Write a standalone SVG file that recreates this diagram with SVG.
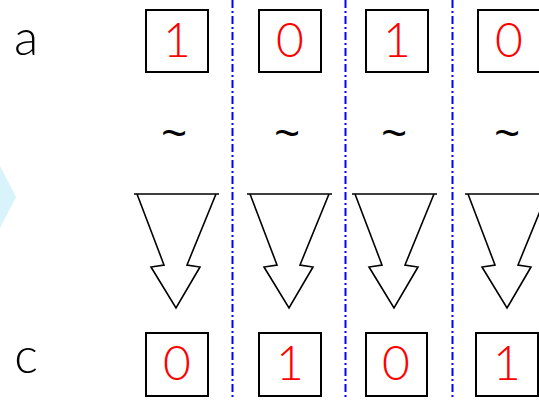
<svg xmlns="http://www.w3.org/2000/svg" width="539" height="400" viewBox="0 0 539 400">
<style>
.box{fill:none;stroke:#000;stroke-width:2}
.dig{font-family:Lato,"Liberation Sans",sans-serif;font-weight:300;font-size:48px;fill:#ff0000;text-anchor:middle}
.lbl{font-family:Lato,"Liberation Sans",sans-serif;font-weight:300;font-size:50px;fill:#000;text-anchor:middle}
.til{font-family:"Liberation Sans",sans-serif;font-size:44px;fill:#000;text-anchor:middle}
.arr{fill:none;stroke:#000;stroke-width:1.6;stroke-linejoin:miter}
.sep{stroke:#0000ff;stroke-width:2;stroke-dasharray:8 3 2 3;fill:none}
</style>
<defs>
<g id="arrow">
<path class="arr" d="M-42,194 H43 M-39,194 L-12,265 L-25,267 L0,308 L24,267 L11,265 L40,194"/>
</g>
</defs>
<polygon points="0,166 16,197 0,228" fill="#d9f3fa"/>
<g id="separators">
<line class="sep" x1="232.5" y1="0" x2="232.5" y2="400"/>
<line class="sep" x1="345.5" y1="0" x2="345.5" y2="400"/>
<line class="sep" x1="452.5" y1="0" x2="452.5" y2="400"/>
</g>
<g id="label-a"><text class="lbl" x="26" y="55">a</text></g>
<g id="label-c"><text class="lbl" x="26" y="373">c</text></g>
<g id="a1"><rect class="box" x="146" y="10" width="62" height="62"/><text class="dig" x="177" y="57">1</text></g>
<g id="a2"><rect class="box" x="259" y="10" width="62" height="62"/><text class="dig" x="290" y="57">0</text></g>
<g id="a3"><rect class="box" x="366" y="10" width="62" height="62"/><text class="dig" x="397" y="57">1</text></g>
<g id="a4"><rect class="box" x="478" y="10" width="62" height="62"/><text class="dig" x="509" y="57">0</text></g>
<g id="tildes">
<text class="til" x="174" y="148">~</text>
<text class="til" x="287" y="148">~</text>
<text class="til" x="394" y="148">~</text>
<text class="til" x="507" y="148">~</text>
</g>
<g id="connectors">
<use href="#arrow" x="176"/>
<use href="#arrow" x="289"/>
<use href="#arrow" x="394"/>
<use href="#arrow" x="507"/>
</g>
<g id="c1"><rect class="box" x="146" y="333" width="62" height="63"/><text class="dig" x="177" y="380">0</text></g>
<g id="c2"><rect class="box" x="259" y="333" width="62" height="63"/><text class="dig" x="290" y="380">1</text></g>
<g id="c3"><rect class="box" x="366" y="333" width="61" height="63"/><text class="dig" x="396" y="380">0</text></g>
<g id="c4"><rect class="box" x="476" y="333" width="62" height="63"/><text class="dig" x="507" y="380">1</text></g>
</svg>
